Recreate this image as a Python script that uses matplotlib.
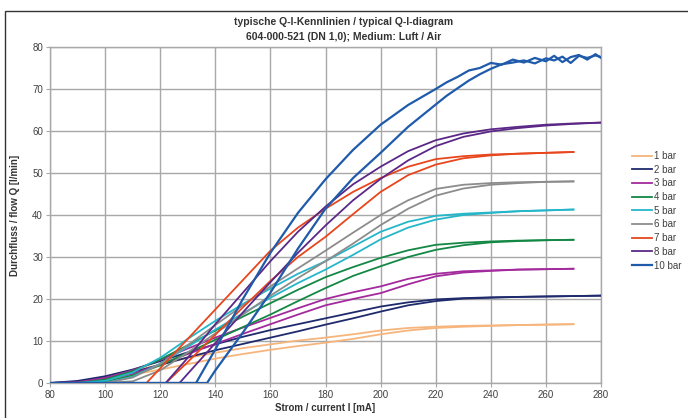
import matplotlib
matplotlib.use("Agg")
import matplotlib.pyplot as plt
from matplotlib.patches import Rectangle

plt.rcParams['font.family'] = ['Liberation Sans', 'DejaVu Sans']

# current grid [mA] shared by most curves
current = [80, 90, 100, 110, 120, 130, 140, 150, 160, 170, 180,
           190, 200, 210, 220, 230, 240, 250, 260, 270, 280]

labels = ['1 bar', '2 bar', '3 bar', '4 bar', '5 bar', '6 bar', '7 bar', '8 bar', '10 bar']
colors = ['#F6B57C', '#1E2A6C', '#A32A9C', '#138845', '#25B6CA',
          '#8C8C8C', '#E8461D', '#5B2887', '#1F5BAA']

# flow [l/min], two branches per pressure (a = upper, b = lower)
q_1bar_a = [0, 0.3, 1.3, 2.8, 4.4, 6.0, 7.2, 8.3, 9.2, 10.1, 10.8, 11.6, 12.5, 13.1, 13.4, 13.6, 13.7, 13.8, 13.9, 14.0, None]
q_1bar_b = [0, 0.1, 0.8, 2.0, 3.2, 4.5, 5.8, 6.9, 7.9, 8.8, 9.6, 10.5, 11.6, 12.5, 13.1, 13.4, 13.6, 13.8, 13.9, 14.0, None]
q_2bar_a = [0, 0.5, 1.6, 3.2, 5.2, 7.3, 9.2, 11.0, 12.6, 14.0, 15.4, 16.8, 18.2, 19.2, 19.9, 20.2, 20.4, 20.5, 20.6, 20.7, 20.8]
q_2bar_b = [0, 0.3, 1.2, 2.6, 4.3, 6.1, 7.8, 9.3, 10.8, 12.3, 13.9, 15.4, 17.0, 18.5, 19.5, 20.1, 20.3, 20.5, 20.6, 20.7, 20.8]
q_3bar_a = [0, 0.2, 1.2, 3.0, 5.5, 8.2, 10.8, 13.2, 15.5, 17.8, 20.0, 21.6, 23.0, 24.8, 26.0, 26.6, 26.8, 27.0, 27.1, 27.2, None]
q_3bar_b = [0, 0, 0.8, 2.2, 4.4, 6.9, 9.3, 11.7, 14.0, 16.3, 18.5, 20.0, 21.4, 23.5, 25.4, 26.3, 26.7, 27.0, 27.1, 27.2, None]
q_4bar_a = [0, 0, 0.8, 2.8, 5.6, 9.0, 12.5, 15.8, 19.0, 22.2, 25.2, 27.6, 29.8, 31.6, 32.9, 33.4, 33.7, 33.9, 34.0, 34.1, None]
q_4bar_b = [0, 0, 0.3, 1.8, 4.2, 7.2, 10.3, 13.3, 16.3, 19.5, 22.6, 25.5, 27.8, 30.0, 31.7, 32.8, 33.5, 33.8, 34.0, 34.1, None]
q_5bar_a = [0, 0, 0.5, 2.5, 6.0, 10.5, 14.8, 18.8, 22.5, 26.0, 29.0, 32.5, 36.0, 38.4, 39.8, 40.3, 40.6, 40.9, 41.1, 41.3, None]
q_5bar_b = [0, 0, 0, 1.5, 4.6, 8.6, 12.7, 16.6, 20.3, 23.8, 27.0, 30.5, 34.2, 37.0, 38.9, 40.0, 40.5, 40.9, 41.1, 41.3, None]
q_6bar_a = [0, 0, 0, 1.3, 4.5, 9.0, 13.8, 18.5, 23.0, 27.3, 31.5, 35.8, 40.0, 43.5, 46.2, 47.2, 47.6, 47.8, 47.9, 48.0, None]
q_6bar_b = [0, 0, 0, 0.4, 3.0, 7.3, 11.8, 16.3, 20.8, 25.0, 29.0, 33.2, 37.6, 41.5, 44.6, 46.3, 47.2, 47.6, 47.9, 48.0, None]
q_7bar_a = [0, 0, 0, 0, 3.5, 10.5, 17.5, 24.5, 31.5, 37.0, 41.5, 45.5, 48.8, 51.5, 53.3, 54.0, 54.4, 54.6, 54.8, 55.0, None]
q_7bar_b = [0, 0, 0, 0, 0, 5.0, 11.5, 18.0, 24.3, 30.0, 34.8, 40.2, 45.5, 49.5, 52.0, 53.5, 54.2, 54.6, 54.8, 55.0, None]
q_8bar_a = [0, 0, 0, 0, 0, 6.0, 14.0, 21.5, 29.0, 36.0, 42.0, 47.3, 51.5, 55.2, 57.8, 59.4, 60.4, 61.0, 61.5, 61.8, 62.0]
q_8bar_b = [0, 0, 0, 0, 0, 2.2, 9.5, 16.8, 24.0, 31.0, 37.5, 43.5, 48.6, 53.0, 56.4, 58.6, 59.9, 60.7, 61.3, 61.7, 62.0]

# 10 bar has its own, finer current steps near saturation
current_10bar = [140, 150, 160, 170, 180, 190, 200, 210, 220, 224, 228, 232, 236, 240, 244,
                 248, 252, 256, 260, 263, 266, 269, 272, 275, 278, 280]
q_10bar_a = [8.0, 20.0, 31.0, 40.5, 48.5, 55.5, 61.5, 66.2, 70.0, 71.6, 72.9, 74.4, 75.0, 76.2, 75.8,
             77.0, 76.3, 77.4, 76.6, 77.9, 76.4, 77.6, 78.1, 77.0, 78.3, 77.4]
q_10bar_b = [3.0, 12.0, 21.5, 32.0, 41.5, 48.8, 54.8, 61.0, 66.3, 68.4, 70.2, 72.0, 73.5, 74.8, 75.9,
             76.3, 76.8, 76.1, 77.3, 76.8, 77.7, 76.2, 77.9, 77.4, 78.0, 77.6]

# current where flow starts (None = smooth start from grid)
onset_a = [None, None, None, None, None, None, 115, 122, 133]
onset_b = [None, None, None, None, None, None, 122, 127, 137]

branches_a = [q_1bar_a, q_2bar_a, q_3bar_a, q_4bar_a, q_5bar_a, q_6bar_a, q_7bar_a, q_8bar_a, q_10bar_a]
branches_b = [q_1bar_b, q_2bar_b, q_3bar_b, q_4bar_b, q_5bar_b, q_6bar_b, q_7bar_b, q_8bar_b, q_10bar_b]
currents = [current] * 8 + [current_10bar]


def branch(cur, q, onset):
    xs, ys = [], []
    if onset is not None:
        xs += [80, onset]
        ys += [0, 0]
    for c, v in zip(cur, q):
        if v is None:
            continue
        if onset is not None and c <= onset:
            continue
        xs.append(c)
        ys.append(v)
    return xs, ys


fig = plt.figure(figsize=(6.88, 4.18), dpi=100)
ax = fig.add_axes([50 / 688, 1 - 383 / 418, 551 / 688, 336 / 418])

for i in range(len(labels)):
    lw = 1.6 if labels[i] == '10 bar' else 1.3
    xa, ya = branch(currents[i], branches_a[i], onset_a[i])
    xb, yb = branch(currents[i], branches_b[i], onset_b[i])
    ax.plot(xa, ya, color=colors[i], lw=lw, label=labels[i], zorder=3 + i)
    ax.plot(xb, yb, color=colors[i], lw=lw, zorder=3 + i)

ax.set_xlim(80, 280)
ax.set_ylim(0, 80)
ax.set_xticks(range(80, 281, 20))
ax.set_yticks(range(0, 81, 10))
ax.grid(True, color='#A8A8A8', lw=1.0)
ax.set_axisbelow(True)
for s in ax.spines.values():
    s.set_color('#A8A8A8')
    s.set_linewidth(1.0)
ax.tick_params(direction='out', length=3, color='#A8A8A8', labelsize=7, labelcolor='#404040', pad=2)

ax.set_xlabel('Strom / current I [mA]', fontsize=7, fontweight='bold', color='#333333', labelpad=2)
ax.set_ylabel('Durchfluss / flow Q [l/min]', fontsize=7, fontweight='bold', color='#333333', labelpad=9)

fig.text(0.5, 1 - 22 / 418, 'typische Q-I-Kennlinien / typical Q-I-diagram', ha='center', va='center',
         fontsize=7.5, fontweight='bold', color='#333333')
fig.text(0.5, 1 - 37 / 418, '604-000-521 (DN 1,0); Medium: Luft / Air', ha='center', va='center',
         fontsize=7.5, fontweight='bold', color='#333333')

fig.legend(loc='upper left', bbox_to_anchor=(632 / 688, 1 - 151 / 418), frameon=False, fontsize=7,
           handlelength=2.1, handletextpad=0.2, labelspacing=0.38, borderpad=0, borderaxespad=0,
           labelcolor='#404040')

# outer frame (right and bottom edges fall outside the picture)
fig.patches.append(Rectangle((5 / 688, -0.02), 1.02, 1.02 - 11 / 418, transform=fig.transFigure,
                             fill=False, edgecolor='#333333', lw=1.0))

fig.savefig('out.png', dpi=100)
